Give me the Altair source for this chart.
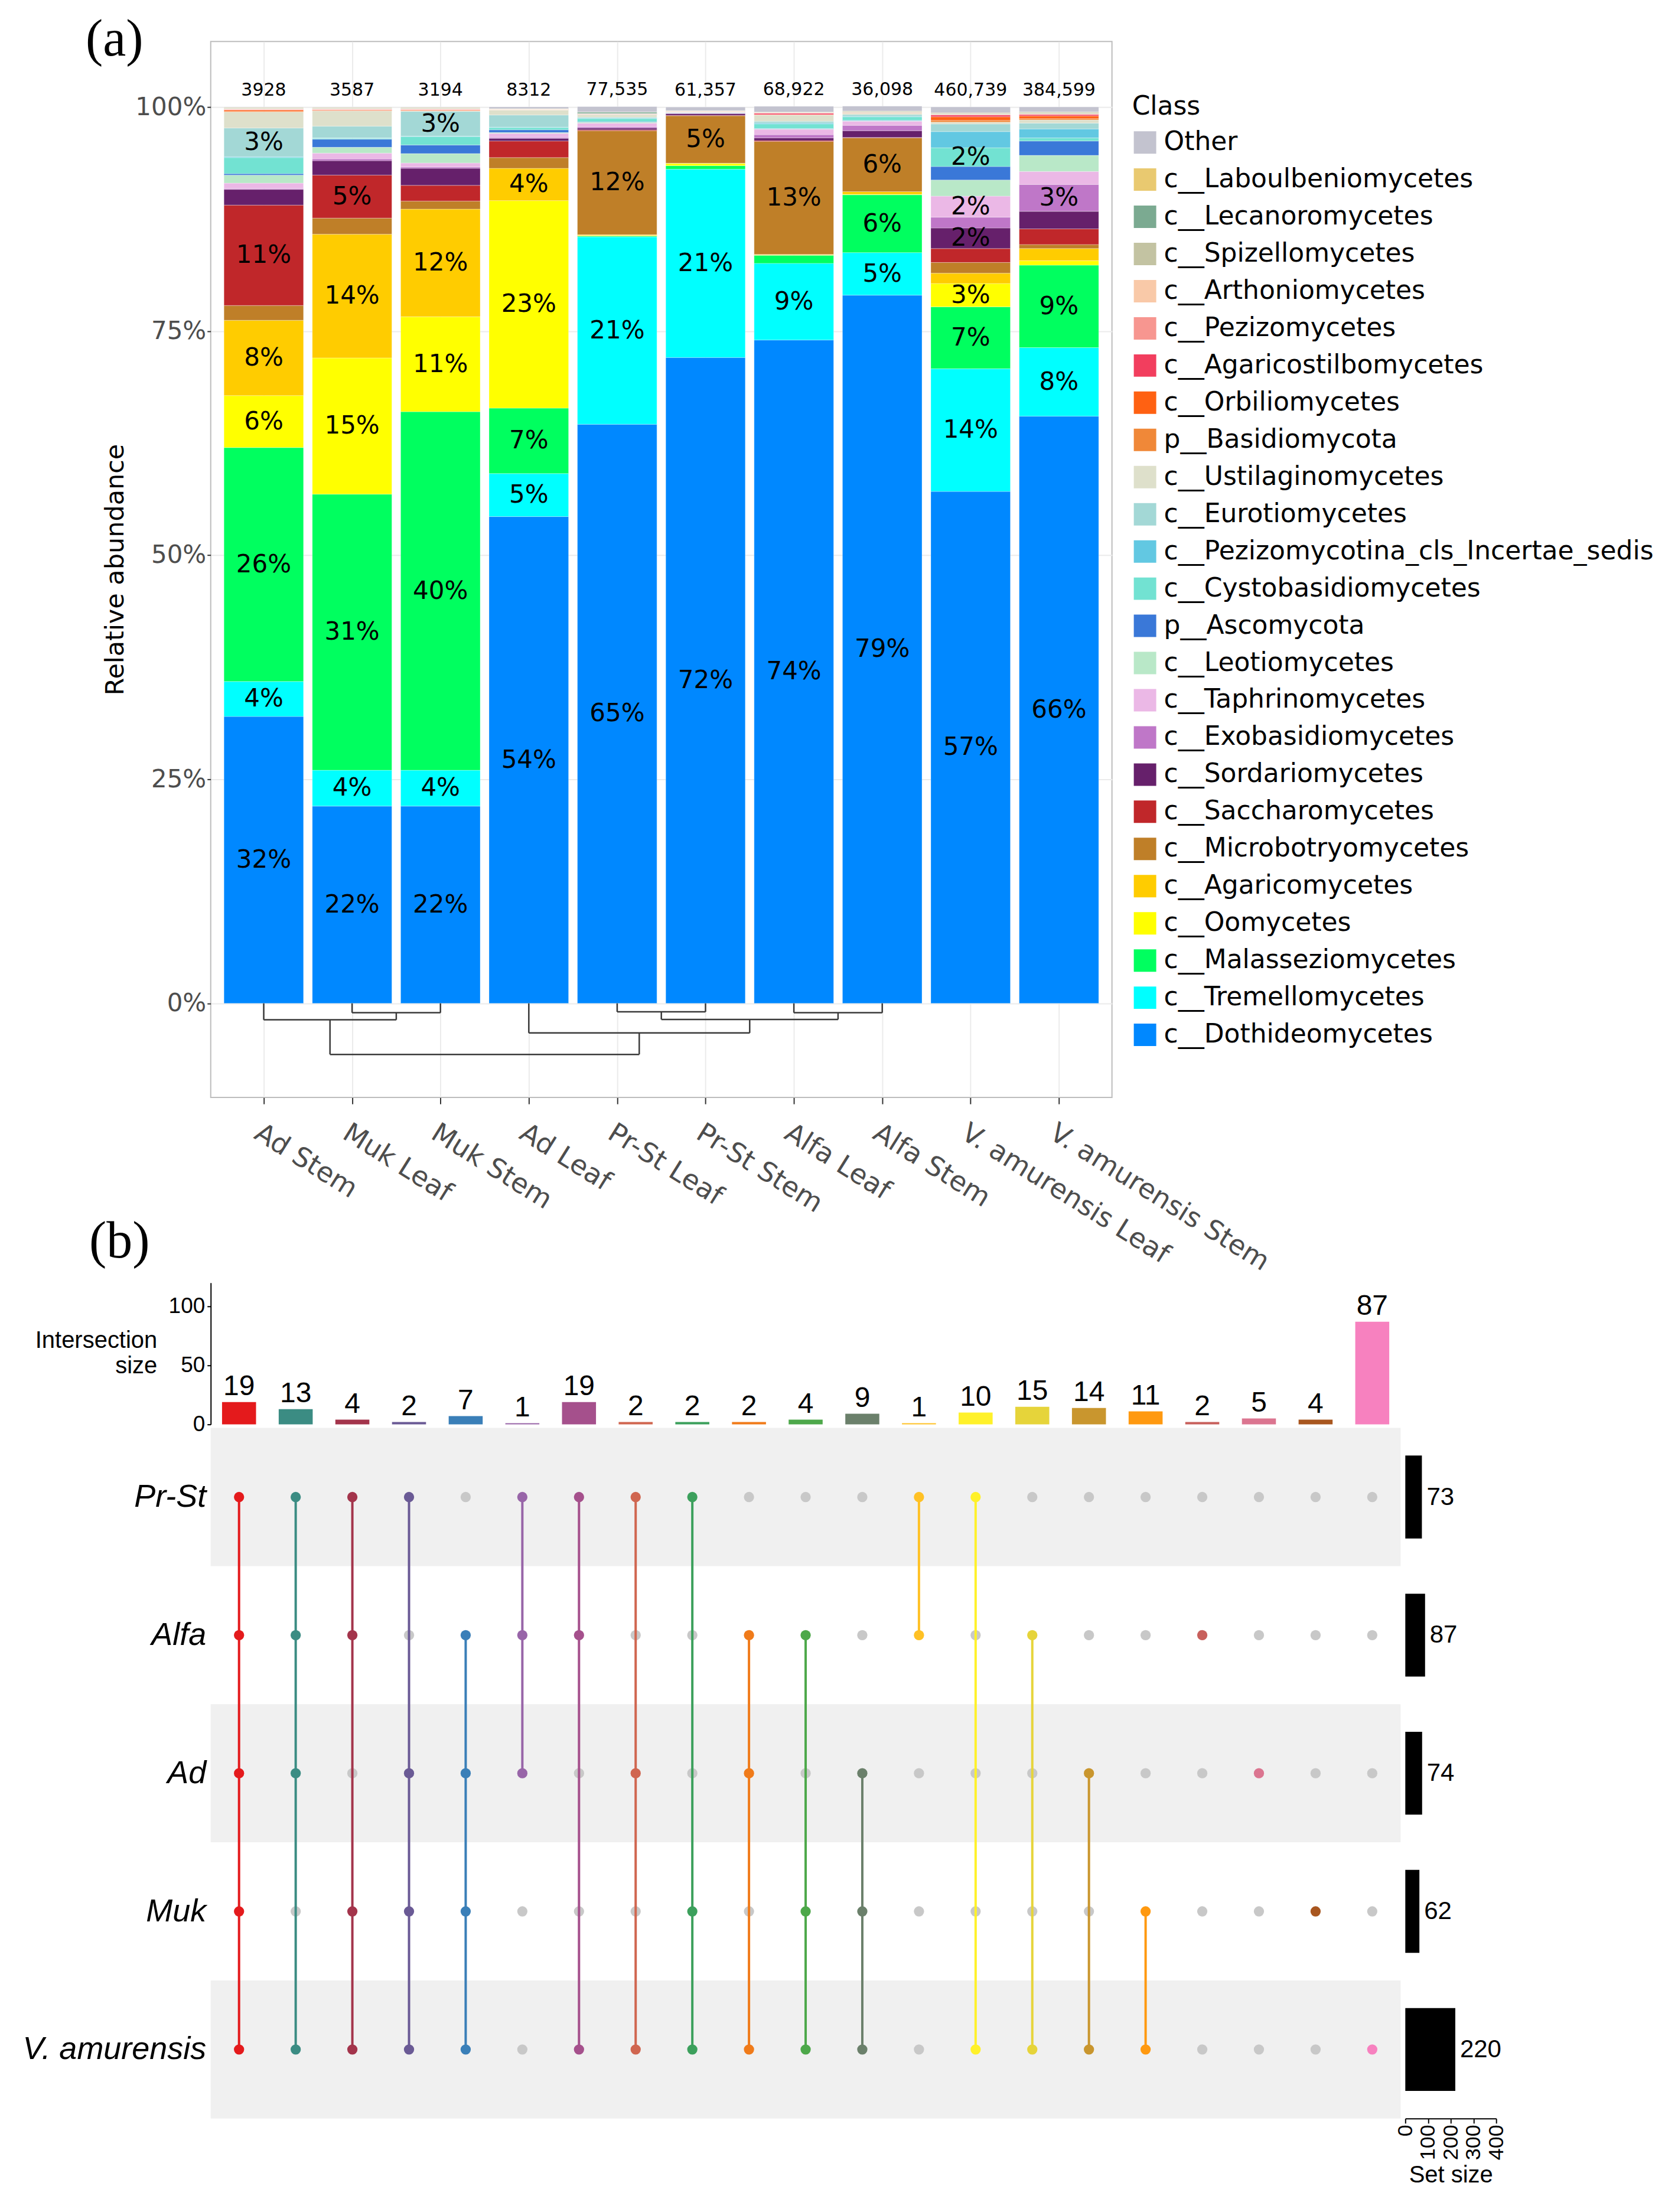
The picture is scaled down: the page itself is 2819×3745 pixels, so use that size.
import altair as alt
import pandas as pd

# ---------------- panel (a) data ----------------
samples = ["Ad Stem", "Muk Leaf", "Muk Stem", "Ad Leaf", "Pr-St Leaf", "Pr-St Stem",
           "Alfa Leaf", "Alfa Stem", "V. amurensis Leaf", "V. amurensis Stem"]
read_counts = [3928, 3587, 3194, 8312, 77535, 61357, 68922, 36098, 460739, 384599]

# classes, listed from the bottom of the stack to the top
classes = ["c__Dothideomycetes", "c__Tremellomycetes", "c__Malasseziomycetes", "c__Oomycetes",
           "c__Agaricomycetes", "c__Microbotryomycetes", "c__Saccharomycetes", "c__Sordariomycetes",
           "c__Exobasidiomycetes", "c__Taphrinomycetes", "c__Leotiomycetes", "p__Ascomycota",
           "c__Cystobasidiomycetes", "c__Pezizomycotina_cls_Incertae_sedis", "c__Eurotiomycetes",
           "c__Ustilaginomycetes", "p__Basidiomycota", "c__Orbiliomycetes", "c__Agaricostilbomycetes",
           "c__Pezizomycetes", "c__Arthoniomycetes", "c__Spizellomycetes", "c__Lecanoromycetes",
           "c__Laboulbeniomycetes", "Other"]
class_colors = ["#0088FF", "#00FFFF", "#00FF5F", "#FFFF00", "#FFCC00", "#BF7F28", "#C0272A",
                "#66206B", "#BF77C8", "#EBB8E6", "#B9E8C8", "#3A78D8", "#72E2D2", "#62C8E2",
                "#A3D8D6", "#DEE0CB", "#F08838", "#FF6112", "#F23E5E", "#F79690", "#F9C9A8",
                "#C3C3A2", "#7BAA91", "#E9C970", "#C3C3CF"]

# relative abundance (%) per sample, same order as `samples`
dothideomycetes = [32.0, 22.0, 22.0, 54.3, 64.6, 72.05, 74.0, 79.0, 57.1, 65.5]
tremellomycetes = [3.9, 4.0, 4.0, 4.8, 20.9, 21.0, 8.55, 4.75, 13.7, 7.65]
malasseziomycetes = [26.1, 30.8, 40.0, 7.3, 0.1, 0.4, 0.9, 6.45, 6.9, 9.2]
oomycetes = [5.8, 15.2, 10.6, 23.15, 0.05, 0.25, 0.05, 0.05, 2.6, 0.5]
agaricomycetes = [8.4, 13.8, 12.0, 3.6, 0.1, 0.02, 0.05, 0.3, 1.15, 1.35]
microbotryomycetes = [1.65, 1.8, 0.9, 1.2, 11.6, 5.3, 12.6, 6.0, 1.2, 0.45]
saccharomycetes = [11.2, 4.8, 1.75, 1.85, 0.1, 0.05, 0.1, 0.05, 1.55, 1.75]
sordariomycetes = [1.75, 1.6, 1.9, 0.3, 0.2, 0.2, 0.3, 0.75, 2.3, 1.95]
exobasidiomycetes = [0.1, 0.2, 0.15, 0.1, 0.15, 0.02, 0.35, 0.6, 1.2, 3.0]
taphrinomycetes = [0.6, 0.65, 0.45, 0.45, 0.4, 0.02, 0.6, 0.45, 2.35, 1.45]
leotiomycetes = [0.9, 0.65, 1.05, 0.1, 0.1, 0.02, 0.05, 0.05, 1.8, 1.8]
ascomycota = [0.15, 0.9, 0.95, 0.3, 0.05, 0.02, 0.05, 0.05, 1.5, 1.6]
cystobasidiomycetes = [1.8, 0.1, 0.95, 0.25, 0.35, 0.02, 0.5, 0.4, 2.1, 0.35]
pezizomycotina_is = [0.1, 0.05, 0.05, 0.05, 0.05, 0.02, 0.1, 0.05, 1.8, 1.0]
eurotiomycetes = [3.2, 1.3, 2.75, 1.35, 0.1, 0.02, 0.2, 0.2, 0.85, 0.65]
ustilaginomycetes = [1.8, 1.7, 0.05, 0.55, 0.3, 0.02, 0.7, 0.15, 0.2, 0.35]
basidiomycota = [0.05, 0.05, 0.05, 0.02, 0.02, 0.02, 0.02, 0.02, 0.2, 0.15]
orbiliomycetes = [0.15, 0.05, 0.05, 0.02, 0.02, 0.02, 0.02, 0.02, 0.4, 0.3]
agaricostilbomycetes = [0.05, 0.05, 0.05, 0.02, 0.02, 0.02, 0.15, 0.02, 0.2, 0.15]
pezizomycetes = [0.05, 0.05, 0.05, 0.02, 0.02, 0.02, 0.05, 0.02, 0.05, 0.05]
arthoniomycetes = [0.05, 0.05, 0.05, 0.02, 0.02, 0.02, 0.02, 0.02, 0.05, 0.05]
spizellomycetes = [0.05, 0.05, 0.05, 0.02, 0.02, 0.02, 0.02, 0.1, 0.05, 0.1]
lecanoromycetes = [0.05, 0.05, 0.05, 0.02, 0.15, 0.02, 0.02, 0.02, 0.05, 0.05]
laboulbeniomycetes = [0.05, 0.05, 0.05, 0.02, 0.02, 0.02, 0.02, 0.02, 0.05, 0.05]
other = [0.05, 0.05, 0.05, 0.2, 0.6, 0.4, 0.65, 0.55, 0.65, 0.55]

abundance = [dothideomycetes, tremellomycetes, malasseziomycetes, oomycetes, agaricomycetes,
             microbotryomycetes, saccharomycetes, sordariomycetes, exobasidiomycetes,
             taphrinomycetes, leotiomycetes, ascomycota, cystobasidiomycetes, pezizomycotina_is,
             eurotiomycetes, ustilaginomycetes, basidiomycota, orbiliomycetes,
             agaricostilbomycetes, pezizomycetes, arthoniomycetes, spizellomycetes,
             lecanoromycetes, laboulbeniomycetes, other]

# hierarchical clustering of the first eight samples: (child, child, merge height)
dendro_merges = [(1, 2, -1.05), (0, 8, -1.84), (4, 5, -0.95), (6, 7, -1.05),
                 (10, 11, -1.8), (3, 12, -3.3), (9, 13, -5.7)]
n_leaves = 8

# ---------------- panel (b) data ----------------
sets = ["Pr-St", "Alfa", "Ad", "Muk", "V. amurensis"]
set_sizes = [73, 87, 74, 62, 220]
inter_sizes = [19, 13, 4, 2, 7, 1, 19, 2, 2, 2, 4, 9, 1, 10, 15, 14, 11, 2, 5, 4, 87]
inter_members = ["11111", "11101", "11011", "10111", "01111", "11100", "11001", "10101",
                 "10011", "01101", "01011", "00111", "11000", "10001", "01001", "00101",
                 "00011", "01000", "00100", "00010", "00001"]
inter_colors = ["#E41A1C", "#3B8C83", "#A3344B", "#6A5A95", "#3A7FB8", "#9865A8", "#A5508C",
                "#D06650", "#3CA05C", "#F07B1A", "#4DA84A", "#6B806B", "#FFC125", "#FFF12A",
                "#E6D43A", "#C9962E", "#FF9910", "#C8605C", "#DB7590", "#A8561F", "#F781BF"]

# ---------------- build tables ----------------
rows = []
tops = []
for si, s in enumerate(samples):
    cum = 0.0
    for ci, c in enumerate(classes):
        v = abundance[ci][si]
        rows.append(dict(sample=s, pos=si, cls=c, xl=si - 0.45, xr=si + 0.45,
                         y0=cum, y1=cum + v, mid=cum + v / 2,
                         label=(f"{int(v + 0.5)}%" if v >= 2 else "")))
        cum += v
    tops.append(cum)
stack_df = pd.DataFrame(rows)

count_df = pd.DataFrame({
    "pos": list(range(len(samples))),
    "top": tops,
    "txt": [(f"{n:,}" if n >= 10000 else str(n)) for n in read_counts],
})

node_x = {i: float(i) for i in range(n_leaves)}
node_h = {i: 0.0 for i in range(n_leaves)}
segs = []
for k, (a, b, h) in enumerate(dendro_merges):
    nid = n_leaves + k
    for c in (a, b):
        segs.append(dict(x1=node_x[c], x2=node_x[c], y1=node_h[c], y2=h))
    segs.append(dict(x1=node_x[a], x2=node_x[b], y1=h, y2=h))
    node_x[nid] = (node_x[a] + node_x[b]) / 2
    node_h[nid] = h
dendro_df = pd.DataFrame(segs)

legend_order = classes[::-1]
legend_colors = class_colors[::-1]

# ---------------- panel (a) chart ----------------
xs = alt.Scale(domain=[-0.6, len(samples) - 0.4], nice=False, zero=False)
ys = alt.Scale(domain=[-10.5, 107.3], nice=False, zero=False)
sample_expr = "[" + ",".join(f"'{s}'" for s in samples) + "][datum.value]"

x_axis = alt.Axis(values=list(range(len(samples))), labelExpr=sample_expr, labelAngle=32,
                  labelAlign="left", labelBaseline="top", labelFontSize=46,
                  labelFont="DejaVu Sans", labelColor="#4D4D4D", labelPadding=26,
                  labelLimit=1000, labelOverlap=False, labelFlush=False,
                  tickSize=11, tickWidth=2, tickColor="#333333", domain=False,
                  grid=True, gridColor="#EBEBEB", gridWidth=2, title=None)
y_axis = alt.Axis(values=[0, 25, 50, 75, 100], labelExpr="datum.value + '%'",
                  labelFontSize=42, labelFont="DejaVu Sans", labelColor="#4D4D4D",
                  labelPadding=2, labelFlush=False, labelOverlap=False,
                  tickSize=6, tickWidth=2, tickColor="#333333", domain=False,
                  grid=True, gridColor="#EBEBEB", gridWidth=2,
                  title="Relative abundance", titleFontSize=43, titleFont="DejaVu Sans",
                  titleFontWeight="normal", titleColor="black", titlePadding=11)

bars = alt.Chart(stack_df).mark_rect(stroke="white", strokeWidth=1, strokeOpacity=0.35).encode(
    x=alt.X("xl:Q", scale=xs, axis=x_axis),
    x2="xr:Q",
    y=alt.Y("y0:Q", scale=ys, axis=y_axis),
    y2="y1:Q",
    color=alt.Color("cls:N", scale=alt.Scale(domain=legend_order, range=legend_colors),
                    legend=alt.Legend(title="Class", orient="none", legendX=1561, legendY=89,
                                      symbolType="square", symbolSize=1444,
                                      symbolStrokeWidth=0, labelFontSize=44,
                                      titleFontSize=44, labelFont="DejaVu Sans",
                                      titleFont="DejaVu Sans", titleFontWeight="normal",
                                      labelColor="black", titleColor="black",
                                      rowPadding=19, titlePadding=16, labelOffset=10,
                                      labelLimit=1200)),
)
seg_text = alt.Chart(stack_df).transform_filter("datum.label != ''").mark_text(
    fontSize=42, font="DejaVu Sans", color="black", baseline="middle").encode(
    x=alt.X("pos:Q", scale=xs),
    y=alt.Y("mid:Q", scale=ys),
    text="label:N",
)
count_text = alt.Chart(count_df).mark_text(
    fontSize=30, font="DejaVu Sans", color="black", baseline="middle", dy=-28).encode(
    x=alt.X("pos:Q", scale=xs),
    y=alt.Y("top:Q", scale=ys),
    text="txt:N",
)
dendro = alt.Chart(dendro_df).mark_rule(color="#3A3A3A", strokeWidth=2.5).encode(
    x=alt.X("x1:Q", scale=xs),
    x2="x2:Q",
    y=alt.Y("y1:Q", scale=ys),
    y2="y2:Q",
)

panel_a = alt.layer(bars, seg_text, count_text, dendro).properties(
    width=1527, height=1789,
    view=alt.ViewBackground(stroke="#BDBDBD", strokeWidth=2),
    title=alt.TitleParams(text="(a)", anchor="start", frame="group", orient="top", offset=0,
                          dx=-212, dy=112, baseline="alphabetic", font="Liberation Serif",
                          fontSize=88, fontWeight="normal", color="black"),
)

# ---------------- panel (b) charts ----------------
ids = list(range(len(inter_sizes)))
inter_df = pd.DataFrame({"id": ids, "size": inter_sizes, "color": inter_colors})

on_rows, off_rows, line_rows = [], [], []
for i, (mem, col) in enumerate(zip(inter_members, inter_colors)):
    idxs = [k for k, ch in enumerate(mem) if ch == "1"]
    for k, s in enumerate(sets):
        if k in idxs:
            on_rows.append(dict(id=i, idx=k, color=col))
        else:
            off_rows.append(dict(id=i, idx=k))
    if len(idxs) >= 2:
        line_rows.append(dict(id=i, lo=min(idxs), hi=max(idxs), color=col))
on_df = pd.DataFrame(on_rows)
off_df = pd.DataFrame(off_rows)
line_df = pd.DataFrame(line_rows)
stripe_df = pd.DataFrame([dict(lo=k - 0.5, hi=k + 0.5) for k in range(len(sets)) if k % 2 == 0])
set_df = pd.DataFrame({"set": sets, "idx": list(range(len(sets))), "size": set_sizes})
set_df["b0"] = set_df["idx"] - 0.3
set_df["b1"] = set_df["idx"] + 0.3

bx = alt.Scale(type="band", domain=ids, paddingInner=0.4, paddingOuter=0.2)
my = alt.Scale(domain=[-0.5, len(sets) - 0.5], nice=False, zero=False, reverse=True)
set_expr = "[" + ",".join(f"'{s}'" for s in sets) + "][datum.value]"

inter_axis = alt.Axis(values=[0, 50, 100], title=["Intersection", "size"], titleAngle=0,
                      titleAlign="right", titleBaseline="top", titleX=-91, titleY=78,
                      titleFontSize=40, titleFont="Liberation Sans",
                      titleFontWeight="normal", titleColor="black", titleLineHeight=43,
                      labelFontSize=37, labelFont="Liberation Sans", labelColor="black",
                      labelPadding=4, tickSize=6, tickWidth=2, tickColor="black",
                      domainColor="black", domainWidth=2, grid=False)
inter_y = alt.Scale(domain=[0, 120], nice=False)
inter_bars = alt.Chart(inter_df).mark_bar().encode(
    x=alt.X("id:O", scale=bx, axis=None),
    y=alt.Y("size:Q", scale=inter_y, axis=inter_axis),
    color=alt.Color("color:N", scale=None),
)
inter_text = alt.Chart(inter_df).mark_text(
    baseline="alphabetic", dy=-12, fontSize=48, font="Liberation Sans", color="black").encode(
    x=alt.X("id:O", scale=bx, axis=None),
    y=alt.Y("size:Q", scale=inter_y, axis=inter_axis),
    text="size:Q",
)
inter_chart = alt.layer(inter_bars, inter_text).properties(
    width=2016, height=240,
    title=alt.TitleParams(text="(b)", anchor="start", frame="group", orient="top", offset=0,
                          dx=-206, dy=45, baseline="alphabetic", font="Liberation Serif",
                          fontSize=88, fontWeight="normal", color="black"),
)

blank = alt.Chart(pd.DataFrame({"v": [0]})).mark_point(opacity=0).encode(
    x=alt.X("v:Q", axis=None), y=alt.Y("v:Q", axis=None)
).properties(width=154, height=240)

m_axis = alt.Axis(values=list(range(len(sets))), labelExpr=set_expr, labelFont="Liberation Sans",
                  labelFontStyle="italic", labelFontSize=54, labelColor="black", ticks=False,
                  domain=False, grid=False, labelPadding=8, labelLimit=1000,
                  labelFlush=False, labelOverlap=False, title=None)
stripes = alt.Chart(stripe_df).mark_rect(color="#F0F0F0").encode(
    y=alt.Y("lo:Q", scale=my, axis=m_axis),
    y2="hi:Q",
)
off_dots = alt.Chart(off_df).mark_circle(size=300, opacity=1, color="#C8C8C8").encode(
    x=alt.X("id:O", scale=bx, axis=None),
    y=alt.Y("idx:Q", scale=my),
)
links = alt.Chart(line_df).mark_rule(strokeWidth=4).encode(
    x=alt.X("id:O", scale=bx, axis=None),
    y=alt.Y("lo:Q", scale=my),
    y2="hi:Q",
    color=alt.Color("color:N", scale=None),
)
on_dots = alt.Chart(on_df).mark_circle(size=300, opacity=1).encode(
    x=alt.X("id:O", scale=bx, axis=None),
    y=alt.Y("idx:Q", scale=my),
    color=alt.Color("color:N", scale=None),
)
matrix = alt.layer(stripes, off_dots, links, on_dots).properties(width=2016, height=1170)

set_x = alt.Scale(domain=[0, 400], nice=False)
set_axis = alt.Axis(values=[0, 100, 200, 300, 400], labelAngle=270, labelFontSize=36,
                    labelFont="Liberation Sans", labelColor="black", tickSize=8,
                    tickWidth=2, tickColor="black", domainColor="black", domainWidth=2,
                    title="Set size", titleFontSize=40, titleFont="Liberation Sans",
                    titleFontWeight="normal", titleColor="black", titlePadding=6,
                    grid=False, labelFlush=False, labelOverlap=False)
set_bars = alt.Chart(set_df).mark_rect(color="black").encode(
    x=alt.X("size:Q", scale=set_x, axis=set_axis),
    x2=alt.datum(0),
    y=alt.Y("b0:Q", scale=my, axis=None),
    y2="b1:Q",
)
set_text = alt.Chart(set_df).mark_text(
    align="left", baseline="middle", dx=8, fontSize=42, font="Liberation Sans",
    color="black").encode(
    x=alt.X("size:Q", scale=set_x, axis=set_axis),
    y=alt.Y("idx:Q", scale=my, axis=None),
    text="size:Q",
)
set_chart = alt.layer(set_bars, set_text).properties(width=154, height=1170)

panel_b = alt.concat(inter_chart, blank, matrix, set_chart, columns=2,
                     spacing={"row": 6, "column": 8}, bounds="flush", align="each")

chart = alt.vconcat(panel_a, panel_b, spacing=314, bounds="flush").resolve_scale(
    color="independent"
).properties(
    padding={"left": 29, "top": 14, "right": 10, "bottom": 10},
    background="white",
).configure_view(stroke="transparent")

chart.save("out.html", embed_options={"renderer": "svg", "actions": False})
